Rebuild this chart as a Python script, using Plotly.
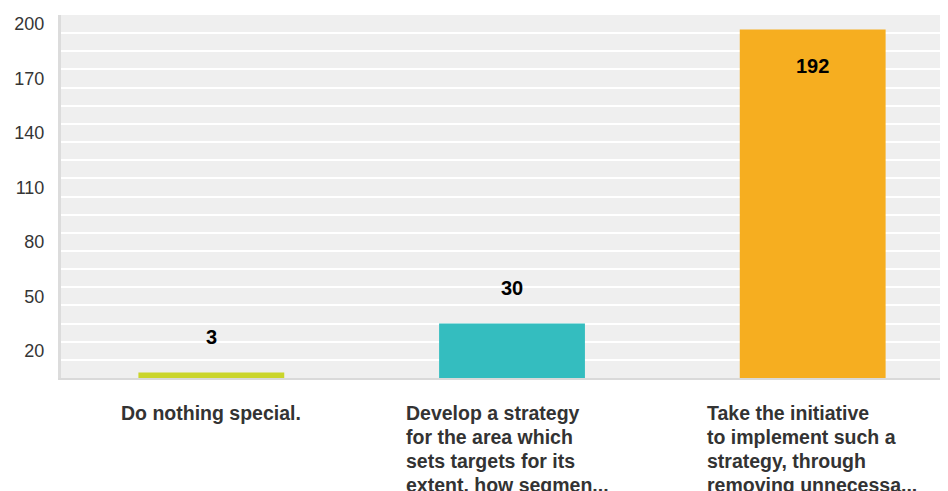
import plotly.graph_objects as go

categories = [
    "Do nothing special.",
    "Develop a strategy<br>for the area which<br>sets targets for its<br>extent, how segmen...",
    "Take the initiative<br>to implement such a<br>strategy, through<br>removing unnecessa...",
]
values = [3, 30, 192]
colors = ["#cad52b", "#34bdbf", "#f6ae20"]
tick_values = [20, 50, 80, 110, 140, 170, 200]
tick_labels = ["20", "50", "80", "110", "140", "170", "200"]
y_max = 200

x_idx = list(range(len(categories)))

fig = go.Figure(
    go.Bar(
        x=x_idx,
        y=values,
        marker=dict(color=colors, line=dict(width=0)),
        width=0.485,
        hoverinfo="skip",
    )
)

label_font = dict(family="Liberation Sans, Arial, sans-serif", size=19.5, color="#333333")
annotations = []
for i, v in enumerate(values):
    inside = v > 0.9 * y_max
    annotations.append(dict(
        x=i, y=v, xref="x", yref="y",
        text=f"<b>{v}</b>", showarrow=False,
        font=dict(family="Liberation Sans, Arial, sans-serif", size=20, color="#000000"),
        yshift=-36 if inside else 36,
    ))
# category labels: wrapped text block, left-aligned, line height 24px
for i, c in enumerate(categories):
    lines = c.split("<br>")
    wrapped = len(lines) > 1
    for j, line in enumerate(lines):
        annotations.append(dict(
            x=i, y=0, xref="x", yref="paper",
            text=f"<b>{line}</b>", showarrow=False,
            xanchor="left" if wrapped else "center",
            xshift=-108 if wrapped else 0,
            yanchor="top", align="left",
            font=label_font,
            yshift=-22 - 24 * j,
        ))

# page body has an 8px default margin, so the figure is sized to fit the window
fig.update_layout(
    width=940, height=483,
    margin=dict(l=53, r=0, t=7, b=113),
    paper_bgcolor="#ffffff",
    plot_bgcolor="#efefef",
    showlegend=False,
    bargap=0.5,
    annotations=annotations,
    xaxis=dict(
        range=[-0.5, 2.45],
        showticklabels=False,
        showgrid=False, zeroline=False,
        showline=True, linecolor="#d9d9d9", linewidth=2,
        ticks="",
        automargin=False,
        fixedrange=True,
    ),
    yaxis=dict(
        range=[0, y_max],
        tickmode="array", tickvals=tick_values, ticktext=tick_labels,
        tickfont=dict(family="Liberation Sans, Arial, sans-serif", size=18, color="#353535"),
        showgrid=True, gridcolor="#ffffff", gridwidth=1.5,
        minor=dict(dtick=10, tick0=0, showgrid=True, gridcolor="#ffffff", gridwidth=1.5),
        zeroline=False,
        showline=True, linecolor="#dcdcdc", linewidth=3,
        ticks="",
        ticklabelstandoff=10,
        ticklabelshift=9,
        ticklabeloverflow="allow",
        automargin=False,
        fixedrange=True,
    ),
)

fig.write_html("out.html")
